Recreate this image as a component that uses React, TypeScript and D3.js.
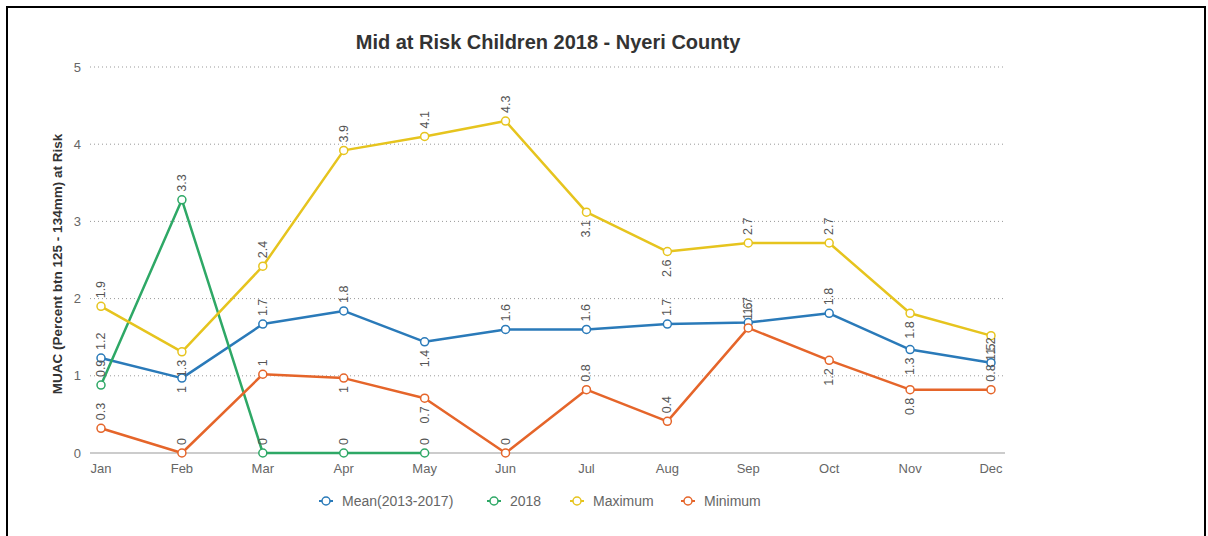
import React from "react";
import * as d3 from "d3";

const months = ["Jan", "Feb", "Mar", "Apr", "May", "Jun", "Jul", "Aug", "Sep", "Oct", "Nov", "Dec"];
const meanValues = [1.23, 0.97, 1.67, 1.84, 1.44, 1.6, 1.6, 1.67, 1.69, 1.81, 1.34, 1.17];
const values2018 = [0.88, 3.28, 0, 0, 0];
const maxValues = [1.9, 1.31, 2.42, 3.92, 4.1, 4.3, 3.12, 2.61, 2.72, 2.72, 1.81, 1.52];
const minValues = [0.32, 0, 1.02, 0.97, 0.71, 0, 0.82, 0.41, 1.62, 1.2, 0.82, 0.82];
const yTicks = [0, 1, 2, 3, 4, 5];

// label placement: a = above, b = below
const meanPos = ["a", "b", "a", "a", "b", "a", "a", "a", "a", "a", "b", "a"];
const pos2018 = ["a", "a", "a", "a", "a"];
const maxPos = ["a", "b", "a", "a", "a", "a", "b", "b", "a", "a", "b", "b"];
const minPos = ["a", "a", "a", "b", "b", "a", "a", "a", "a", "b", "b", "a"];

const series = [
  { name: "Mean(2013-2017)", values: meanValues, pos: meanPos, color: "#2a7ab9" },
  { name: "2018", values: values2018, pos: pos2018, color: "#2ea866" },
  { name: "Maximum", values: maxValues, pos: maxPos, color: "#e6c41e" },
  { name: "Minimum", values: minValues, pos: minPos, color: "#e5652a" },
];

const fmt = (v: number) => String(Math.round(v * 10) / 10);

export default function App() {
  const W = 1208, H = 536;
  const x = d3.scalePoint<string>().domain(months).range([101, 991]);
  const y = d3.scaleLinear().domain([0, 5]).range([453, 67]);
  const line = d3.line<number>().x((_, i) => x(months[i]) as number).y((d) => y(d));
  const font = "'Liberation Sans', Arial, Helvetica, sans-serif";
  const legendX = [326, 494, 577, 688];

  return (
    <div style={{ position: "absolute", left: 0, top: 0 }}>
      <svg width={W} height={H} style={{ display: "block", fontFamily: font }}>
        <rect x={0} y={0} width={W} height={H} fill="#fff" />
        <rect x={7} y={7} width={1198} height={560} fill="none" stroke="#000" strokeWidth={2} />
        <text x={548} y={49} textAnchor="middle" fontSize={20} fontWeight="bold" fill="#333">
          Mid at Risk Children 2018 - Nyeri County
        </text>
        {yTicks.map((t) =>
          t === 0 ? null : (
            <line key={"g" + t} x1={90} x2={1005} y1={y(t)} y2={y(t)} stroke="#999" strokeWidth={1} strokeDasharray="1,3" />
          )
        )}
        <line x1={90} x2={1005} y1={y(0)} y2={y(0)} stroke="#bbb" strokeWidth={1.5} />
        {yTicks.map((t) => (
          <text key={"yt" + t} x={81} y={y(t)} dy="0.35em" textAnchor="end" fontSize={13} fill="#666">
            {t}
          </text>
        ))}
        <text transform={`translate(62,264) rotate(-90)`} textAnchor="middle" fontSize={13.5} fontWeight="bold" fill="#333">
          MUAC (Percent btn 125 - 134mm) at Risk
        </text>
        {months.map((m) => (
          <text key={"xt" + m} x={x(m)} y={473} textAnchor="middle" fontSize={13} fill="#666">
            {m}
          </text>
        ))}
        {series.map((s) => (
          <path key={"l" + s.name} d={line(s.values) || ""} fill="none" stroke={s.color} strokeWidth={2.5} strokeLinejoin="round" />
        ))}
        {series.map((s) =>
          s.values.map((v, i) => (
            <circle key={"c" + s.name + i} cx={x(months[i])} cy={y(v)} r={4} fill="#fff" stroke={s.color} strokeWidth={1.5} />
          ))
        )}
        {series.map((s) =>
          s.values.map((v, i) => {
            const px = (x(months[i]) as number) + 4;
            const above = s.pos[i] === "a";
            const py = above ? y(v) - 8 : y(v) + 8;
            return (
              <text
                key={"t" + s.name + i}
                transform={`translate(${px},${py}) rotate(-90)`}
                textAnchor={above ? "start" : "end"}
                fontSize={12.5}
                fill="#555"
              >
                {fmt(v)}
              </text>
            );
          })
        )}
        {series.map((s, i) => (
          <g key={"lg" + s.name}>
            <line x1={legendX[i] - 7} x2={legendX[i] + 7} y1={501} y2={501} stroke={s.color} strokeWidth={2} />
            <circle cx={legendX[i]} cy={501} r={4} fill="#fff" stroke={s.color} strokeWidth={1.5} />
            <text x={legendX[i] + 16} y={501} dy="0.35em" fontSize={14} fill="#666">
              {s.name}
            </text>
          </g>
        ))}
      </svg>
    </div>
  );
}
